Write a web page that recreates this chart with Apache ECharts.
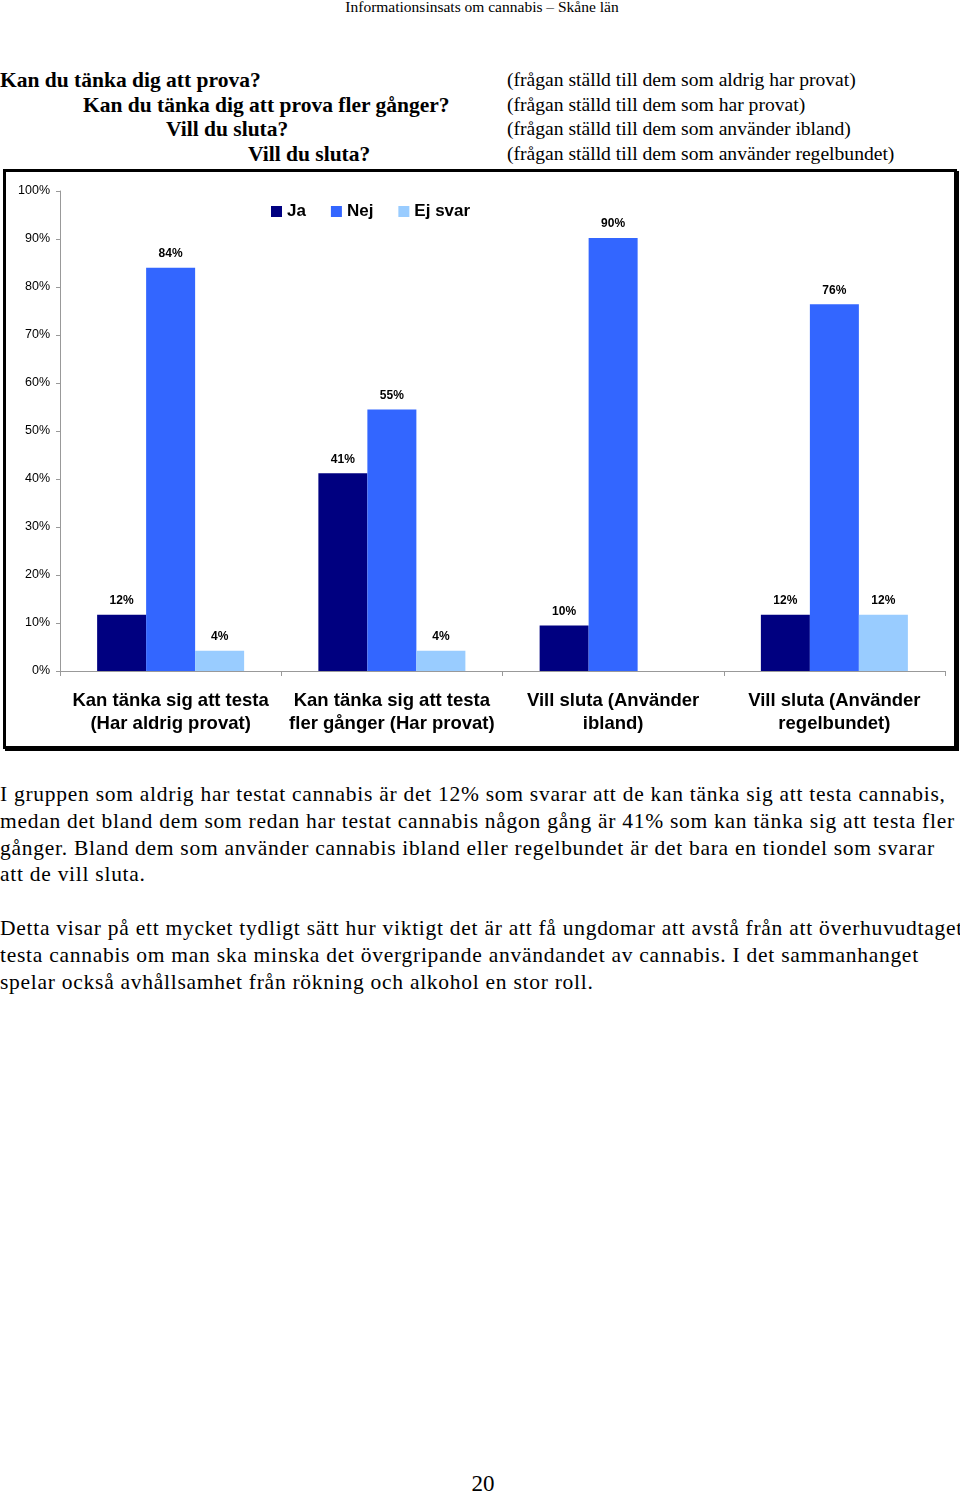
<!DOCTYPE html>
<html>
<head>
<meta charset="utf-8">
<script src="https://cdn.jsdelivr.net/npm/echarts@6/dist/echarts.min.js"></script>
<style>
  html, body { margin: 0; padding: 0; background: #fff; }
  #page { position: relative; width: 960px; height: 1494px; overflow: hidden; background: #fff; }
  .t { position: absolute; white-space: nowrap; color: #000; font-family: "Liberation Serif", "Times New Roman", serif; }
  .hdr { font-size: 15.5px; line-height: 16px; }
  .q { font-weight: bold; font-size: 21.5px; line-height: 24px; }
  .n { font-size: 19.6px; line-height: 24px; }
  .p { font-size: 21.5px; line-height: 26px; letter-spacing: 0.73px; }
  #frame { position: absolute; left: 3px; top: 169px; width: 948px; height: 574px; border: 3px solid #000; box-shadow: 2px 2px 0 #000; background: #fff; }
  #chart { position: absolute; left: 0; top: 170px; width: 960px; height: 590px; }
</style>
</head>
<body>
<div id="page">
  <div class="t hdr" style="left:0;width:964px;text-align:center;top:-1px;">Informationsinsats om cannabis – Skåne län</div>

  <div class="t q" style="left:0;top:68px;">Kan du tänka dig att prova?</div>
  <div class="t q" style="left:83px;top:92.5px;">Kan du tänka dig att prova fler gånger?</div>
  <div class="t q" style="left:166px;top:117px;">Vill du sluta?</div>
  <div class="t q" style="left:248px;top:141.5px;">Vill du sluta?</div>

  <div class="t n" style="left:507px;top:68px;">(frågan ställd till dem som aldrig har provat)</div>
  <div class="t n" style="left:507px;top:92.5px;">(frågan ställd till dem som har provat)</div>
  <div class="t n" style="left:507px;top:117px;">(frågan ställd till dem som använder ibland)</div>
  <div class="t n" style="left:507px;top:141.5px;">(frågan ställd till dem som använder regelbundet)</div>

  <div id="frame"></div>
  <div id="chart"></div>

  <div class="t p" style="left:0;top:781px;">I gruppen som aldrig har testat cannabis är det 12% som svarar att de kan tänka sig att testa cannabis,</div>
  <div class="t p" style="left:0;top:808px;">medan det bland dem som redan har testat cannabis någon gång är 41% som kan tänka sig att testa fler</div>
  <div class="t p" style="left:0;top:834.5px;">gånger. Bland dem som använder cannabis ibland eller regelbundet är det bara en tiondel som svarar</div>
  <div class="t p" style="left:0;top:861px;">att de vill sluta.</div>

  <div class="t p" style="left:0;top:915px;">Detta visar på ett mycket tydligt sätt hur viktigt det är att få ungdomar att avstå från att överhuvudtaget</div>
  <div class="t p" style="left:0;top:942px;">testa cannabis om man ska minska det övergripande användandet av cannabis. I det sammanhanget</div>
  <div class="t p" style="left:0;top:968.5px;">spelar också avhållsamhet från rökning och alkohol en stor roll.</div>

  <div class="t" style="left:0;width:966px;text-align:center;top:1471px;font-size:23px;line-height:26px;">20</div>
</div>
<script>
const categories = [
  'Kan tänka sig att testa\n(Har aldrig provat)',
  'Kan tänka sig att testa\nfler gånger (Har provat)',
  'Vill sluta (Använder\nibland)',
  'Vill sluta (Använder\nregelbundet)'
];
const seriesNames = ['Ja', 'Nej', 'Ej svar'];
const jaValues = [11.7, 41.2, 9.5, 11.7];
const nejValues = [84, 54.5, 90.2, 76.4];
const ejSvarValues = [4.2, 4.2, null, 11.7];
const seriesColors = ['#000080', '#3366FF', '#99CCFF'];
const yMin = 0, yMax = 100, yStep = 10;

const chart = echarts.init(document.getElementById('chart'), null, { renderer: 'canvas' });
const labelCfg = {
  show: true,
  position: 'top',
  distance: 8,
  fontFamily: 'Liberation Sans, Arial, sans-serif',
  fontWeight: 'bold',
  fontSize: 12,
  color: '#000',
  formatter: p => (p.value == null ? '' : Math.round(p.value) + '%')
};
function mk(name, data, color) {
  return {
    name: name, type: 'bar', data: data,
    barWidth: 49, barGap: '0%',
    itemStyle: { color: color },
    label: labelCfg,
    animation: false
  };
}
chart.setOption({
  animation: false,
  backgroundColor: 'transparent',
  textStyle: { fontFamily: 'Liberation Sans, Arial, sans-serif' },
  legend: {
    data: seriesNames,
    left: 266, top: 28,
    itemWidth: 11, itemHeight: 11, itemGap: 25,
    icon: 'rect',
    textStyle: { fontSize: 17, fontWeight: 'bold', color: '#000', fontFamily: 'Liberation Sans, Arial, sans-serif' }
  },
  grid: { left: 60, right: 15, top: 21, bottom: 89, containLabel: false },
  xAxis: {
    type: 'category',
    data: categories,
    axisLine: { lineStyle: { color: '#999', width: 1 } },
    axisTick: { show: true, length: 5, lineStyle: { color: '#999' } },
    axisLabel: {
      interval: 0, margin: 18,
      fontSize: 18.5, fontWeight: 'bold', lineHeight: 23, color: '#000',
      fontFamily: 'Liberation Sans, Arial, sans-serif'
    }
  },
  yAxis: {
    type: 'value', min: yMin, max: yMax, interval: yStep,
    axisLine: { show: true, lineStyle: { color: '#999', width: 1 } },
    axisTick: { show: true, length: 4, lineStyle: { color: '#999' } },
    splitLine: { show: false },
    axisLabel: {
      formatter: '{value}%', margin: 10,
      fontSize: 12.5, color: '#000', padding: [4, 0, 0, 0],
      fontFamily: 'Liberation Sans, Arial, sans-serif'
    }
  },
  series: [
    mk(seriesNames[0], jaValues, seriesColors[0]),
    mk(seriesNames[1], nejValues, seriesColors[1]),
    mk(seriesNames[2], ejSvarValues, seriesColors[2])
  ]
});
</script>
</body>
</html>
